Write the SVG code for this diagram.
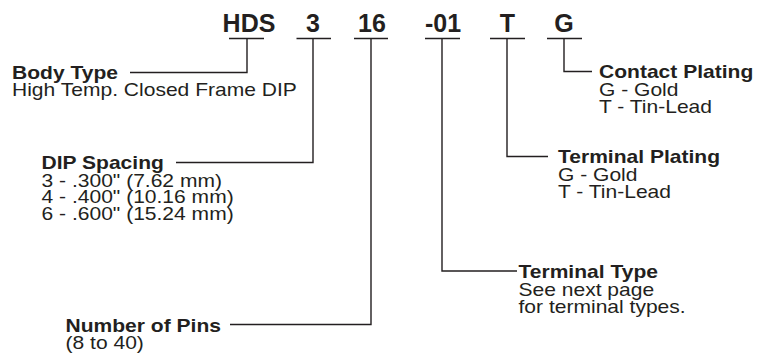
<svg xmlns="http://www.w3.org/2000/svg" width="767" height="356" viewBox="0 0 767 356">
<style>
.code{font-family:"Liberation Sans",Arial,sans-serif;font-weight:bold;font-size:25px;fill:#231f20;text-anchor:middle}
.h{font-family:"Liberation Sans",Arial,sans-serif;font-weight:bold;font-size:18.8px;fill:#231f20}
.t{font-family:"Liberation Sans",Arial,sans-serif;font-size:18.8px;fill:#231f20}
.ln{fill:none;stroke:#231f20;stroke-width:1.4}
</style>
<rect width="767" height="356" fill="#fff"/>
<g id="codes">
<text class="code" x="249" y="32">HDS</text>
<text class="code" x="313" y="32">3</text>
<text class="code" x="372" y="32">16</text>
<text class="code" x="443" y="32">-01</text>
<text class="code" x="507.5" y="32">T</text>
<text class="code" x="564" y="32">G</text>
</g>
<g id="connectors" class="ln">
<path d="M229 38.5H264M247 38.5V72.5H130"/>
<path d="M296.5 38.5H331M313 38.5V162.5H176"/>
<path d="M354 38.5H388M371 38.5V324.5H230"/>
<path d="M425 38.5H460M442 38.5V271H517"/>
<path d="M490 38.5H525M507 38.5V156.5H548"/>
<path d="M547 38.5H582M564 38.5V71.5H592"/>
</g>
<g id="body-type">
<text class="h" transform="matrix(1.12 0 0 1 12 78.5)">Body Type</text>
<text class="t" transform="matrix(1.12 0 0 1 12 96)">High Temp. Closed Frame DIP</text>
</g>
<g id="dip-spacing">
<text class="h" transform="matrix(1.12 0 0 1 41.5 168.5)">DIP Spacing</text>
<text class="t" transform="matrix(1.12 0 0 1 41.5 186.5)">3 - .300" (7.62 mm)</text>
<text class="t" transform="matrix(1.12 0 0 1 41.5 203)">4 - .400" (10.16 mm)</text>
<text class="t" transform="matrix(1.12 0 0 1 41.5 219.5)">6 - .600" (15.24 mm)</text>
</g>
<g id="number-of-pins">
<text class="h" transform="matrix(1.12 0 0 1 65.5 331.5)">Number of Pins</text>
<text class="t" transform="matrix(1.12 0 0 1 65.5 349)">(8 to 40)</text>
</g>
<g id="contact-plating">
<text class="h" transform="matrix(1.12 0 0 1 599 78)">Contact Plating</text>
<text class="t" transform="matrix(1.12 0 0 1 599 96)">G - Gold</text>
<text class="t" transform="matrix(1.12 0 0 1 599 113)">T - Tin-Lead</text>
</g>
<g id="terminal-plating">
<text class="h" transform="matrix(1.12 0 0 1 558 163)">Terminal Plating</text>
<text class="t" transform="matrix(1.12 0 0 1 558 181)">G - Gold</text>
<text class="t" transform="matrix(1.12 0 0 1 558 198)">T - Tin-Lead</text>
</g>
<g id="terminal-type">
<text class="h" transform="matrix(1.12 0 0 1 518.5 278)">Terminal Type</text>
<text class="t" transform="matrix(1.12 0 0 1 518.5 295.5)">See next page</text>
<text class="t" transform="matrix(1.12 0 0 1 518.5 312.5)">for terminal types.</text>
</g>
</svg>
